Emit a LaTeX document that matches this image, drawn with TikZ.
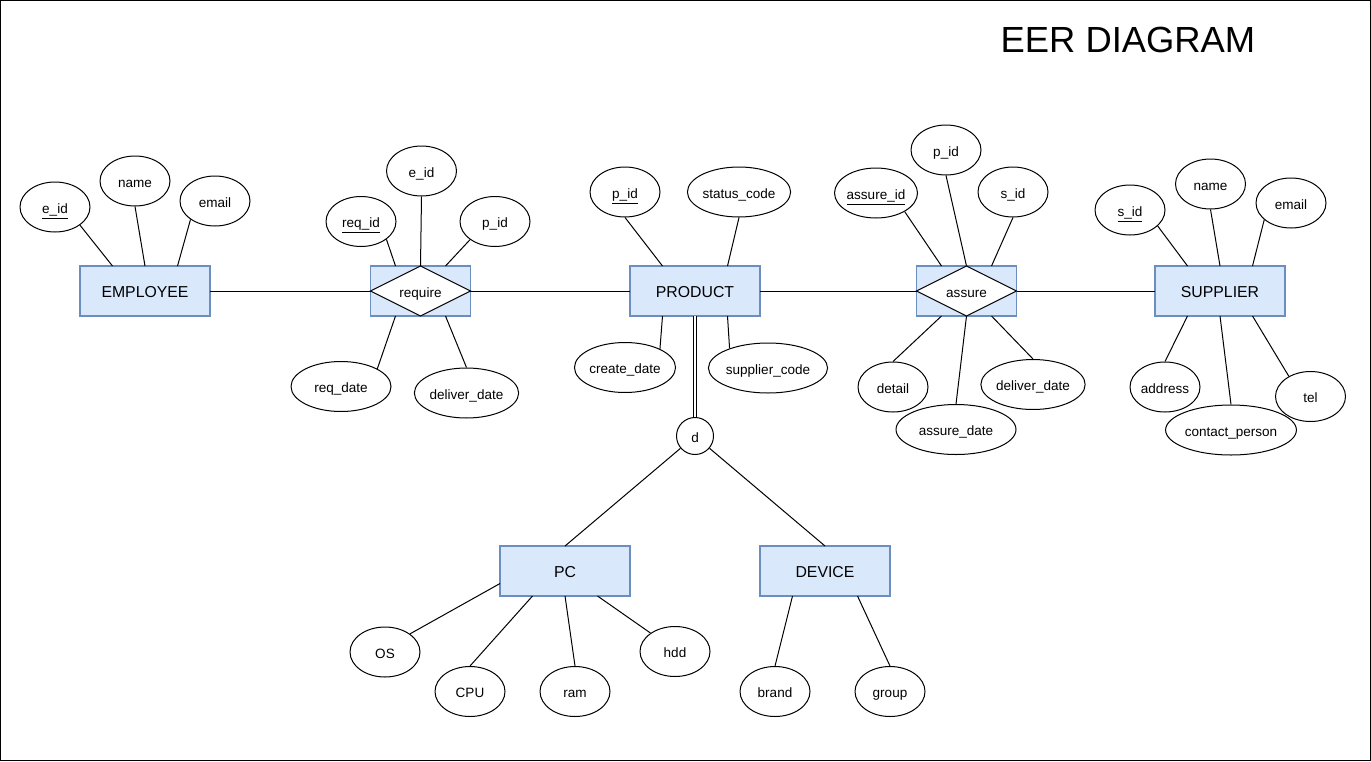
\documentclass[tikz,border=0pt]{standalone}
\usepackage{fontspec}
\setmainfont{Liberation Sans}
\usetikzlibrary{shapes.geometric,calc}
\definecolor{entityBlue}{HTML}{DAE8FC}
\definecolor{entityEdge}{HTML}{6C8EBF}

\begin{document}
\begin{tikzpicture}[x=0.02cm, y=-0.02cm, line width=0.57pt,
    entity/.style={draw=entityEdge, fill=entityBlue, line width=1.1pt, minimum width=2.6cm, minimum height=1cm, inner sep=0pt, outer sep=0pt, font=\fontsize{9}{11}\selectfont, text height=0.9em, text depth=0.21em},
    relation/.style={entity, minimum width=2cm},
    attr/.style={ellipse, draw, minimum width=1.4cm, minimum height=1cm, inner sep=0pt, font=\fontsize{7.7}{9}\selectfont, text height=0.9em, text depth=0.21em},
    wideattr/.style={attr, minimum width=2cm},
    small/.style={font=\fontsize{7.7}{9}\selectfont, text height=0.9em, text depth=0.21em}]
 	\useasboundingbox (0,0) rectangle (1371,761);
 	\draw (0.5,0.5) rectangle (1370.5,760.5);
 	\node[font=\fontsize{20.7}{24}\selectfont] (title) at (1128,40) {EER DIAGRAM};

	% entities
 	\node[entity] (emp) at (145,291) {EMPLOYEE};
 	\node[entity] (prod) at (695,291) {PRODUCT};
 	\node[entity] (supp) at (1220,291) {SUPPLIER};
 	\node[entity] (pc) at (565,571) {PC};
 	\node[entity] (dev) at (825,571) {DEVICE};

	% relationships
 	\node[relation] (req) at (420.5,291) {};
 	\draw[fill=white] (req.north) -- (req.east) -- (req.south) -- (req.west) -- cycle;
 	\node[small] (reqlabel) at (req) {require};
 	\node[relation] (ass) at (966.5,291) {};
 	\draw[fill=white] (ass.north) -- (ass.east) -- (ass.south) -- (ass.west) -- cycle;
 	\node[small] (asslabel) at (ass) {assure};

 	\draw (emp) -- (req);
 	\draw (req) -- (prod);
 	\draw (prod) -- (ass);
 	\draw (ass) -- (supp);

	% specialization
 	\node[circle, draw, minimum size=0.74cm, inner sep=0pt, small] (disj) at (695,436) {d};
 	\draw[double, double distance=1.6pt] (prod) -- (disj);
 	\draw (disj) -- (pc.north);
 	\draw (disj) -- (dev.north);

	% EMPLOYEE attributes
 	\node[attr] (empid) at (55,207) {\underline{e\_id}};
 	\node[attr] (empname) at (135,181) {name};
 	\node[attr] (empmail) at (215,201) {email};
 	\draw (empid.-36) -- ($(emp.north)+(-32.5,0)$);
 	\draw (empname.south) -- (emp.north);
 	\draw (empmail.217) -- ($(emp.north)+(32.5,0)$);

	% require attributes
 	\node[attr] (reqid) at (361,221.5) {\underline{req\_id}};
 	\node[attr] (reqeid) at (421.5,171) {e\_id};
 	\node[attr] (reqpid) at (495,221.5) {p\_id};
 	\node[wideattr] (reqdate) at (341,386.5) {req\_date};
 	\node[wideattr] (reqdeliv) at (466.5,393) {deliver\_date};
 	\draw (reqid.-35) -- ($(req.north)+(-25,0)$);
 	\draw (reqeid.south) -- (req.north);
 	\draw (reqpid.216) -- ($(req.north)+(25,0)$);
 	\draw (reqdate.26) -- ($(req.south)+(-25,0)$);
 	\draw (reqdeliv.north) -- ($(req.south)+(25,0)$);

	% PRODUCT attributes
 	\node[attr] (prodid) at (625,192) {\underline{p\_id}};
 	\node[wideattr] (prodstatus) at (739,192) {status\_code};
 	\node[wideattr] (prodcreate) at (625,367.5) {create\_date};
 	\node[wideattr] (prodsupp) at (768,368) {supplier\_code};
 	\draw (prodid.south) -- ($(prod.north)+(-32.5,0)$);
 	\draw (prodstatus.south) -- ($(prod.north)+(32.5,0)$);
 	\draw (prodcreate.28) -- ($(prod.south)+(-32.5,0)$);
 	\draw (prodsupp.153) -- ($(prod.south)+(32.5,0)$);

	% assure attributes
 	\node[attr, minimum width=1.62cm] (assid) at (876,193) {\underline{assure\_id}};
 	\node[attr] (asspid) at (946,150) {p\_id};
 	\node[attr] (asssid) at (1013,192) {s\_id};
 	\node[attr] (assdetail) at (893,387) {detail};
 	\node[attr, minimum width=2.4cm] (assdate) at (956,429.5) {assure\_date};
 	\node[wideattr] (assdeliv) at (1033,384.5) {deliver\_date};
 	\draw (assid.-33) -- ($(ass.north)+(-25,0)$);
 	\draw (asspid.south) -- (ass.north);
 	\draw (asssid.south) -- ($(ass.north)+(25,0)$);
 	\draw (assdetail.north) -- ($(ass.south)+(-25,0)$);
 	\draw (assdate.north) -- (ass.south);
 	\draw (assdeliv.north) -- ($(ass.south)+(25,0)$);

	% SUPPLIER attributes
 	\node[attr] (suppid) at (1130,210) {\underline{s\_id}};
 	\node[attr] (suppname) at (1210.5,184) {name};
 	\node[attr] (suppmail) at (1291,203) {email};
 	\node[attr] (suppaddr) at (1165,387) {address};
 	\node[attr, minimum width=2.4cm] (suppcontact) at (1231,430) {contact\_person};
 	\node[attr] (supptel) at (1310.5,396.5) {tel};
 	\draw (suppid.-30) -- ($(supp.north)+(-32.5,0)$);
 	\draw (suppname.south) -- (supp.north);
 	\draw (suppmail.212) -- ($(supp.north)+(32.5,0)$);
 	\draw (suppaddr.north) -- ($(supp.south)+(-32.5,0)$);
 	\draw (suppcontact.north) -- (supp.south);
 	\draw (supptel.137) -- ($(supp.south)+(32.5,0)$);

	% PC attributes
 	\node[attr] (pcos) at (385,652) {OS};
 	\node[attr] (pccpu) at (470,691.5) {CPU};
 	\node[attr] (pcram) at (575,691.5) {ram};
 	\node[attr] (pchdd) at (675,651.5) {hdd};
 	\draw (pcos.36) -- ($(pc.west)+(0,12.5)$);
 	\draw (pccpu.north) -- ($(pc.south)+(-32.5,0)$);
 	\draw (pcram.north) -- (pc.south);
 	\draw (pchdd.143) -- ($(pc.south)+(32.5,0)$);

	% DEVICE attributes
 	\node[attr] (devbrand) at (775,691.5) {brand};
 	\node[attr] (devgroup) at (890,691.5) {group};
 	\draw (devbrand.north) -- ($(dev.south)+(-32.5,0)$);
 	\draw (devgroup.north) -- ($(dev.south)+(32.5,0)$);
\end{tikzpicture}
\end{document}
